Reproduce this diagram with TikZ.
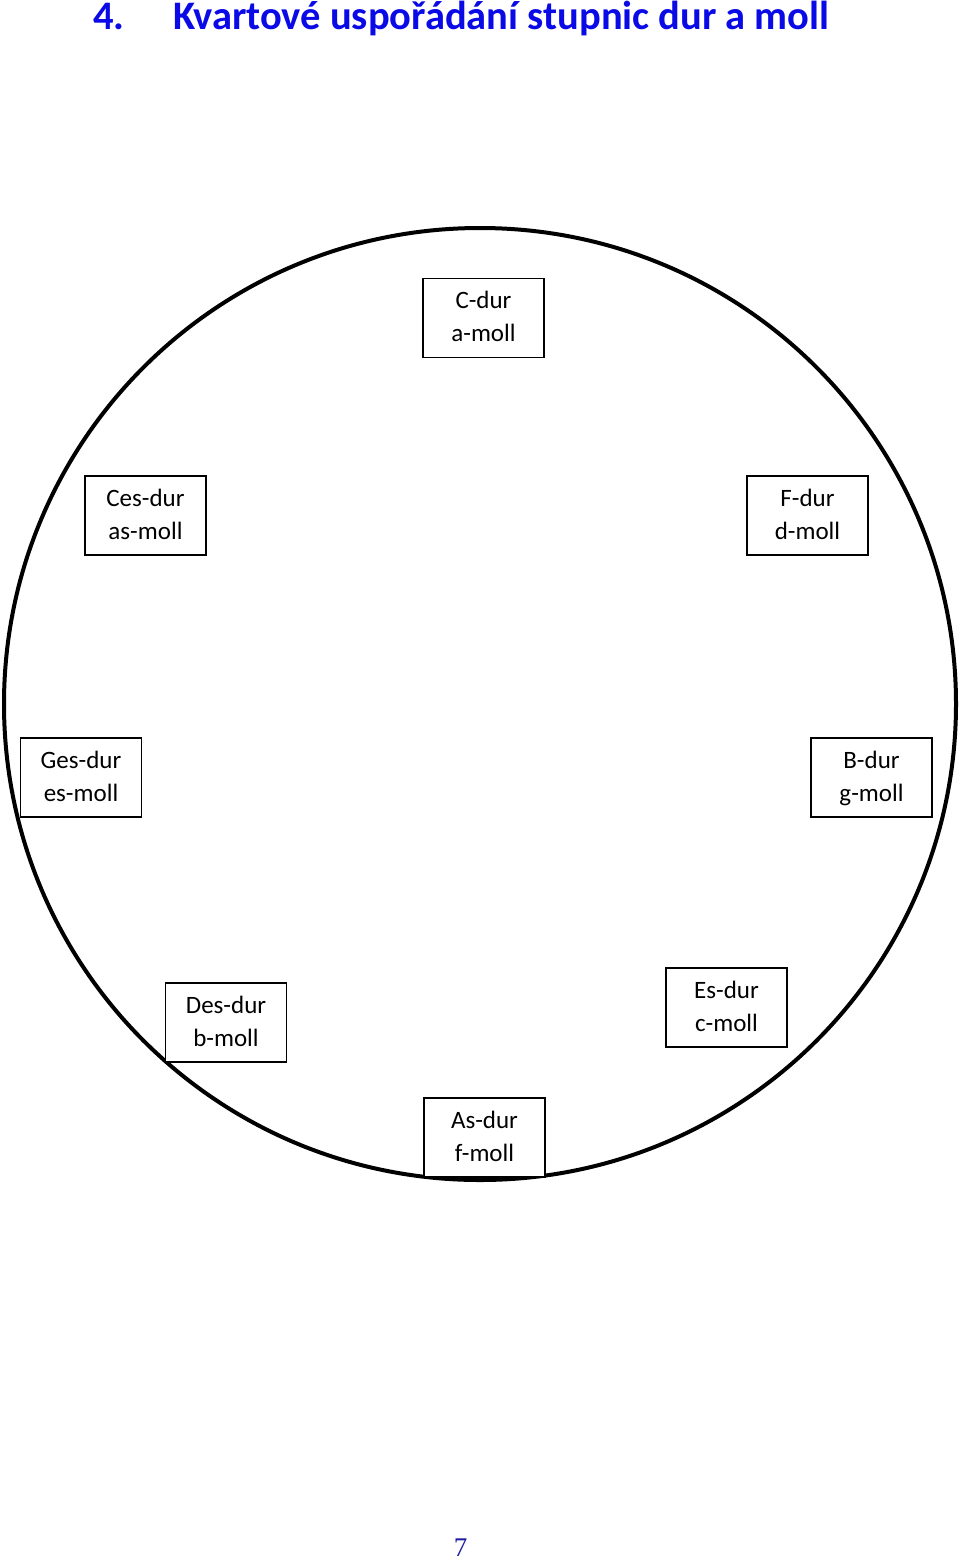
\documentclass[tikz,border=0pt]{standalone}
\usepackage{fontspec}
\setmainfont{Carlito}
\newfontfamily\pagefont{Liberation Serif}
\usepackage{xcolor}
\definecolor{titleblue}{RGB}{10,10,230}
\definecolor{pageblue}{RGB}{30,30,160}
\usetikzlibrary{positioning}

\begin{document}
\begin{tikzpicture}[x=1pt, y=-1pt,
  keybox/.style={draw, line width=1.6pt, fill=white, minimum width=121pt, minimum height=79pt, inner sep=0pt, text depth=2.5pt, align=center, font=\fontsize{25}{33}\selectfont}]
\useasboundingbox (0,0) rectangle (960,1559);
% title
\node[anchor=base west, titleblue, font=\fontsize{40.5}{44}\selectfont\bfseries, inner sep=0pt] (num) at (93,29) {4.};
\node[anchor=base west, titleblue, font=\fontsize{40.5}{44}\selectfont\bfseries, inner sep=0pt] (title) at (173,29) {Kvartové uspořádání stupnic dur a moll};
% circle of fourths
\draw[line width=4pt] (480,704) circle (476);
\node[keybox] (C) at (483.5,318) {C-dur\\a-moll};
\node[keybox] (F) at (807.5,515.5) {F-dur\\d-moll};
\node[keybox] (B) at (871.5,777.5) {B-dur\\g-moll};
\node[keybox] (Es) at (726.5,1007.5) {Es-dur\\c-moll};
\node[keybox] (As) at (484.5,1137.5) {As-dur\\f-moll};
\node[keybox] (Des) at (226,1022.5) {Des-dur\\b-moll};
\node[keybox] (Ges) at (81,777.5) {Ges-dur\\es-moll};
\node[keybox] (Ces) at (145.5,515.5) {Ces-dur\\as-moll};
% page number
\node[anchor=base, pageblue, font=\pagefont\fontsize{27}{29}\selectfont, inner sep=0pt] (page) at (460.5,1556) {7};
\end{tikzpicture}
\end{document}
